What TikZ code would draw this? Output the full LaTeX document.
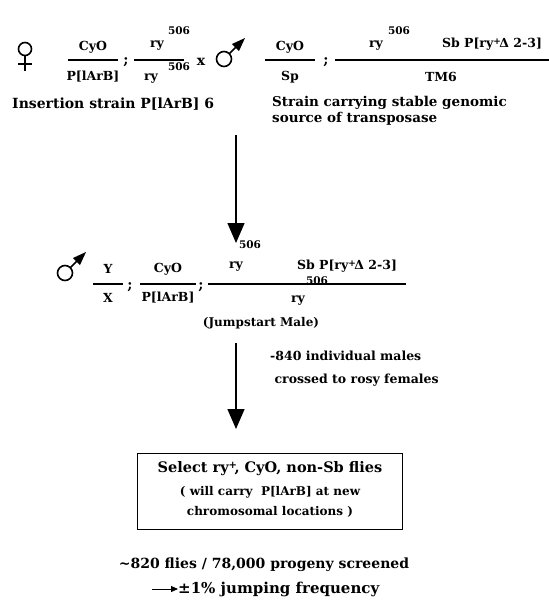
\documentclass[tikz,border=0pt]{standalone}
\usepackage{fontspec}
\setmainfont{DejaVu Serif}
\usetikzlibrary{arrows.meta,positioning}

\begin{document}
\begin{tikzpicture}[x=1pt, y=-1pt,
    every node/.style={font=\bfseries\fontsize{14}{16}\selectfont, inner sep=0pt},
    geno/.style={font=\bfseries\fontsize{12.5}{14}\selectfont},
    allele/.style={font=\bfseries\fontsize{10.5}{12}\selectfont},
    bar/.style={line width=1.3pt},
    sym/.style={line width=1.6pt},
    bigarrow/.style={line width=1.4pt, -{Triangle[length=20pt,width=17pt]}},
    smallarrow/.style={line width=0.9pt, -{Triangle[length=7pt,width=6pt]}},
    note/.style={align=left},
    selbox/.style={draw, line width=0.8pt, minimum width=265pt, minimum height=76pt}
  ]
    \useasboundingbox (0,0) rectangle (549,606);

    % Female parent
    \draw[sym] (25,49) circle (6.5);
    \draw[sym] (25,55.5) -- (25,71);
    \draw[sym] (18,64) -- (32,64);
    \node[geno] (fCyO)  at (93,47) {CyO};
    \node[geno] (fPlArB) at (93,77) {P[lArB]};
    \draw[bar] (68,60) -- (118,60);
    \node (fsemi) at (126,62) {;};
    \node[geno] (fryA) at (157,46) {ry};
    \node[allele] (fsupA) at (179,31) {506};
    \draw[bar] (134,60) -- (184,60);
    \node[geno] (fryB) at (151,79) {ry};
    \node[allele] (fsupB) at (179,67) {506};

    \node (cross) at (201,62) {x};

    % Male parent
    \draw[sym] (224,59) circle (7.5);
    \draw[sym] (229.5,53.5) -- (237,46);
    \fill (245,38) -- (232,44) -- (239,51) -- cycle;
    \node[geno] (mCyO) at (290,47) {CyO};
    \node[geno] (mSp)  at (290,77) {Sp};
    \draw[bar] (265,60) -- (315,60);
    \node (msemi) at (326,62) {;};
    \node[geno] (mry) at (376,46) {ry};
    \node[allele] (msup) at (399,31) {506};
    \node[geno] (mSb) at (492,44) {Sb P[ry\raisebox{0.5ex}{\fontsize{9}{9}\selectfont+}\kern-1.5pt Δ 2-3]};
    \draw[bar] (335,60) -- (549,60);
    \node[geno] (mTM6) at (441,77) {TM6};

    % Strain labels
    \node[anchor=west] (insertion) at (12,104) {Insertion strain P[lArB] 6};
    \node[note, anchor=north west, font=\bfseries\fontsize{13.5}{16}\selectfont] (source) at (272,96) {Strain carrying stable genomic\\source of transposase};

    % Jumpstart male
    \draw[sym] (65,273) circle (7.5);
    \draw[sym] (70.5,267.5) -- (78,260);
    \fill (86,252) -- (73,258) -- (80,265) -- cycle;
    \node[geno] (jY) at (108,269) {Y};
    \node[geno] (jX) at (108,298) {X};
    \draw[bar] (93,284) -- (123,284);
    \node (jsemiA) at (130,287) {;};
    \node[geno] (jCyO) at (168,269) {CyO};
    \node[geno] (jPlArB) at (168,298) {P[lArB]};
    \draw[bar] (140,284) -- (196,284);
    \node (jsemiB) at (201,287) {;};
    \node[geno] (jryA) at (236,267) {ry};
    \node[allele] (jsupA) at (250,245) {506};
    \node[geno] (jSb) at (347,266) {Sb P[ry\raisebox{0.5ex}{\fontsize{9}{9}\selectfont+}\kern-1.5pt Δ 2-3]};
    \draw[bar] (208,284) -- (406,284);
    \node[allele] (jsupB) at (317,281) {506};
    \node[geno] (jryB) at (298,301) {ry};
    \node[font=\bfseries\fontsize{12}{14}\selectfont] (jump) at (261,323) {(Jumpstart Male)};

    % Screen
    \node[note, anchor=west, font=\bfseries\fontsize{12.5}{23}\selectfont] (males) at (270,369) {-840 individual males\\\ crossed to rosy females};
    \node[selbox] (select) at (270,491) {};
    \node[font=\bfseries\fontsize{14.5}{16}\selectfont] (selA) at (270,469) {Select ry\raisebox{0.6ex}{\fontsize{10}{10}\selectfont+}\kern-2.5pt, CyO, non-Sb flies};
    \node[font=\bfseries\fontsize{12}{14}\selectfont] (selB) at (270,492) {( will carry\ \ P[lArB] at new};
    \node[font=\bfseries\fontsize{12}{14}\selectfont] (selC) at (270,512) {chromosomal locations )};
    \node (screened) at (264,565) {\textasciitilde820 flies / 78,000 progeny screened};
    \node[anchor=west, font=\bfseries\fontsize{15}{17}\selectfont] (freq) at (178,589) {±1\% jumping frequency};
    \coordinate (freqtail) at (152,589);

    % Arrows
    \draw[bigarrow] (236,135) -- (236,243);
    \draw[bigarrow] (236,343) -- (236,429);
    \draw[smallarrow] (freqtail) -- (freq.west);
  \end{tikzpicture}
\end{document}
